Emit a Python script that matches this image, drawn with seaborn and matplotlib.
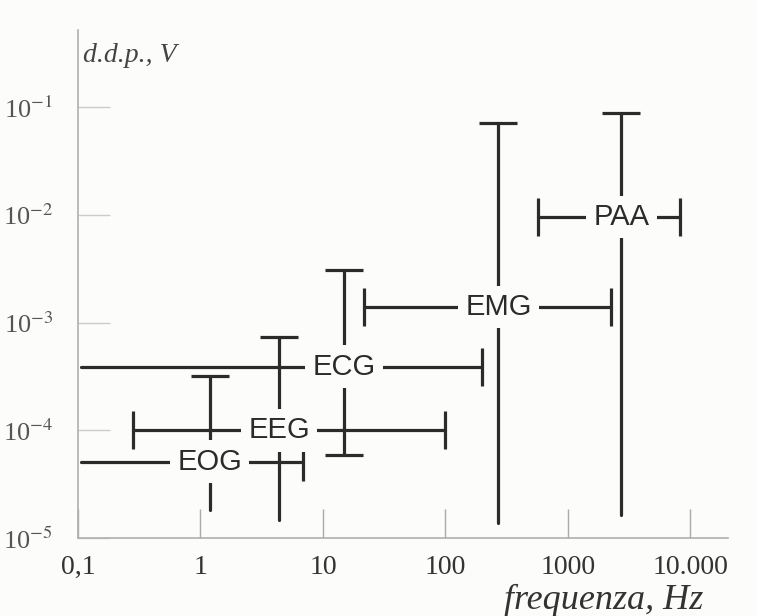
import numpy as np
import pandas as pd
import matplotlib
matplotlib.use("Agg")
import matplotlib.pyplot as plt
from matplotlib.ticker import FixedLocator, FixedFormatter, NullLocator
import seaborn as sns

# ---- data ----
names = ["EOG", "EEG", "ECG", "EMG", "PAA"]
freq_center = [1.19, 4.4, 14.8, 270, 2730]
freq_low = [0.105, 0.28, 0.105, 21.6, 570]
freq_high = [6.9, 100, 200, 2230, 8150]
volt_center = [5.1e-5, 1.0e-4, 3.9e-4, 1.39e-3, 9.5e-3]
volt_low = [1.82e-5, 1.47e-5, 5.9e-5, 1.38e-5, 1.63e-5]
volt_high = [3.2e-4, 7.4e-4, 3.1e-3, 7.1e-2, 8.8e-2]
cap_freq_low = [False, True, False, True, True]
cap_freq_high = [True, True, True, True, True]
cap_volt_low = [False, False, True, False, False]
cap_volt_high = [True, True, True, True, True]

x_ticks = [0.1, 1, 10, 100, 1000, 10000]
x_tick_labels = ["0,1", "1", "10", "100", "1000", "10.000"]
y_ticks = [1e-5, 1e-4, 1e-3, 1e-2, 1e-1]
y_tick_labels = ["10$^{-5}$", "10$^{-4}$", "10$^{-3}$", "10$^{-2}$", "10$^{-1}$"]

# ---- style ----
sns.set_theme(style="white")
plt.rcParams["font.family"] = ["Liberation Serif", "DejaVu Serif"]
plt.rcParams["mathtext.fontset"] = "stix"

bg = "#fcfcfa"
ink = "#2b2b2b"

fig = plt.figure(figsize=(7.58, 6.16), dpi=100, facecolor=bg)
ax = fig.add_axes([0.1029, 0.1266, 0.8575, 0.8247], facecolor=bg)
ax.set_xscale("log")
ax.set_yscale("log")
ax.set_xlim(0.1, 10 ** 4.306)
ax.set_ylim(1e-5, 10 ** -0.285)

# segments table built from the arrays
rows = []
for i, n in enumerate(names):
    rows.append({"seg": f"{n}-h", "f": freq_low[i], "v": volt_center[i]})
    rows.append({"seg": f"{n}-h", "f": freq_high[i], "v": volt_center[i]})
    rows.append({"seg": f"{n}-v", "f": freq_center[i], "v": volt_low[i]})
    rows.append({"seg": f"{n}-v", "f": freq_center[i], "v": volt_high[i]})
seg = pd.DataFrame(rows)

sns.lineplot(data=seg, x="f", y="v", units="seg", estimator=None, sort=False,
             color=ink, linewidth=2.3, ax=ax, legend=False)

# caps
hx, hy, vx, vy = [], [], [], []
for i in range(len(names)):
    if cap_freq_low[i]:
        hx.append(freq_low[i]); hy.append(volt_center[i])
    if cap_freq_high[i]:
        hx.append(freq_high[i]); hy.append(volt_center[i])
    if cap_volt_low[i]:
        vx.append(freq_center[i]); vy.append(volt_low[i])
    if cap_volt_high[i]:
        vx.append(freq_center[i]); vy.append(volt_high[i])
ax.plot(hx, hy, ls="none", marker="|", ms=28, mew=2.3, color=ink)
ax.plot(vx, vy, ls="none", marker="_", ms=28, mew=2.3, color=ink)

for i, n in enumerate(names):
    ax.text(freq_center[i], volt_center[i], n, ha="center", va="center",
            fontsize=21, family=["Liberation Sans", "DejaVu Sans"], color=ink,
            bbox=dict(boxstyle="square,pad=0.25", fc=bg, ec="none"), zorder=5)

# axes styling
for s in ["top", "right"]:
    ax.spines[s].set_visible(False)
for s in ["left", "bottom"]:
    ax.spines[s].set_color("#b0b0b0")
    ax.spines[s].set_linewidth(1.2)

ax.xaxis.set_major_locator(FixedLocator(x_ticks))
ax.xaxis.set_major_formatter(FixedFormatter(x_tick_labels))
ax.yaxis.set_major_locator(FixedLocator(y_ticks))
ax.yaxis.set_major_formatter(FixedFormatter(y_tick_labels))
ax.xaxis.set_minor_locator(NullLocator())
ax.yaxis.set_minor_locator(NullLocator())
ax.tick_params(axis="x", bottom=True, direction="in", length=21, width=1,
               color="#aaaaaa", pad=12, labelsize=20, labelcolor="#333333")
ax.tick_params(axis="y", left=True, direction="in", length=23, width=1,
               color="#cccccc", pad=18, labelsize=19, labelcolor="#555555")
ax.set_xlabel("")
ax.set_ylabel("")

fig.text(83 / 758, 1 - 55 / 616, "d.d.p., V", ha="left", va="center",
         fontsize=20, style="italic", color="#444444")
fig.text(604 / 758, 1 - 600 / 616, "frequenza, Hz", ha="center", va="center",
         fontsize=26, style="italic", color="#333333")

fig.savefig("out.png", dpi=100, facecolor=bg)
